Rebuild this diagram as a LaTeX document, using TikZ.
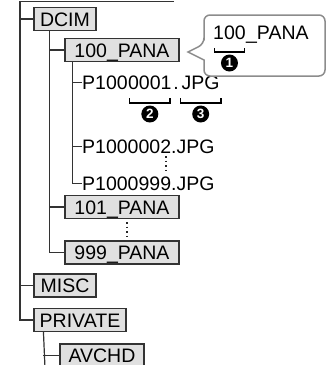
\documentclass[tikz,border=0pt]{standalone}
\usepackage{fontspec}
\setmainfont{Liberation Sans}
\newcommand\myfs{\fontsize{19.5}{20}\selectfont}
\tikzset{
  ln/.style={draw=black!80, line width=1.2pt},
  folder/.style={draw=black!80, line width=1.1pt, fill=black!12, minimum height=23pt,
    inner sep=0pt, text height=14pt, text depth=0pt, font=\myfs},
  fname/.style={inner sep=0pt, font=\myfs},
  brk/.style={line width=1.8pt, black},
  num/.style={circle, fill=black, text=white, inner sep=0pt, minimum size=17pt,
    font=\bfseries\fontsize{13.5}{13.5}\selectfont},
  dotv/.style={line width=1.8pt, dash pattern=on 1.6pt off 3pt, black!85},
  callout/.style={draw=black!45, line width=1.5pt, fill=white}
}
\begin{document}
\begin{tikzpicture}[x=1pt, y=-1pt]
\useasboundingbox (0,0) rectangle (328,365);
% folders
\node[folder, minimum width=62pt]  (dcim)  at (65,19)    {DCIM};
\node[folder, minimum width=114pt] (p100)  at (122,50)   {100\_PANA};
\node[folder, minimum width=114pt] (p101)  at (122,207)  {101\_PANA};
\node[folder, minimum width=114pt] (p999)  at (122,252.5){999\_PANA};
\node[folder, minimum width=62pt]  (misc)  at (65,285.5) {MISC};
\node[folder, minimum width=92pt]  (priv)  at (80,320)   {PRIVATE};
\node[folder, minimum width=84pt]  (avchd) at (102,355.5){AVCHD};
% files
\node[fname, anchor=base west] (f1a) at (82,89) {P100};
\node[fname, anchor=base west] (f1b) at (f1a.base east) {0001};
\node[fname, anchor=base west] (f1c) at (f1b.base east) {\kern1.5pt.\kern2.5pt};
\node[fname, anchor=base west] (f1d) at (f1c.base east) {JPG};
\node[fname, anchor=base west] (f2) at (82,153) {P1000002.JPG};
\node[fname, anchor=base west] (f3) at (82,190) {P1000999.JPG};
% tree lines
\coordinate (top) at (20,1.2);
\coordinate (topend) at (174,1.2);
\draw[ln] (topend) -- (top) |- (priv.west);
\draw[ln] (dcim.west -| top) -- (dcim.west);
\draw[ln] (misc.west -| top) -- (misc.west);
\coordinate (dv) at ([xshift=16pt]dcim.south west);
\draw[ln] (dv) |- (p999.west);
\draw[ln] (p100.west -| dv) -- (p100.west);
\draw[ln] (p101.west -| dv) -- (p101.west);
\coordinate (pv) at ([xshift=8pt]p100.south west);
\draw[ln] (pv) |- (f3.west);
\draw[ln] (f1a.west -| pv) -- (f1a.west);
\draw[ln] (f2.west -| pv) -- (f2.west);
\coordinate (rv) at ([xshift=10pt]priv.south west);
\coordinate (rvend) at (45,368);
\draw[ln] (rv) -- (rvend);
\draw[ln] (avchd.west -| rv) -- (avchd.west);
% dotted continuations
\coordinate (d1a) at (166,156);
\coordinate (d1b) at (166,173);
\draw[dotv] (d1a) -- (d1b);
\coordinate (d2a) at (127,222);
\coordinate (d2b) at (127,239);
\draw[dotv] (d2a) -- (d2b);
% brackets under file name
\draw[brk] ([shift={(1.5,9)}]f1b.base west) -- ([shift={(1.5,14)}]f1b.base west)
  -- ([shift={(-1.5,14)}]f1b.base east) -- ([shift={(-1.5,9)}]f1b.base east);
\draw[brk] ([shift={(-1,9)}]f1d.base west) -- ([shift={(-1,14)}]f1d.base west)
  -- ([shift={(1,14)}]f1d.base east) -- ([shift={(1,9)}]f1d.base east);
\node[num] (n2) at ([shift={(0,25)}]f1b.base) {2};
\node[num] (n3) at ([shift={(0,25)}]f1d.base) {3};
% callout
\draw[callout] (204,44) -- (188,52) -- (204,60) [rounded corners=6pt] -- (204,76)
  -- (325,76) -- (325,15) -- (204,15) -- (204,44) -- cycle;
\node[fname, anchor=base west] (c1a) at (213,39) {100};
\node[fname, anchor=base west] (c1b) at (c1a.base east) {\_PANA};
\draw[brk] ([shift={(1.5,9)}]c1a.base west) -- ([shift={(1.5,13)}]c1a.base west)
  -- ([shift={(-1.5,13)}]c1a.base east) -- ([shift={(-1.5,9)}]c1a.base east);
\node[num] (n1) at ([shift={(0,24)}]c1a.base) {1};
\end{tikzpicture}
\end{document}
